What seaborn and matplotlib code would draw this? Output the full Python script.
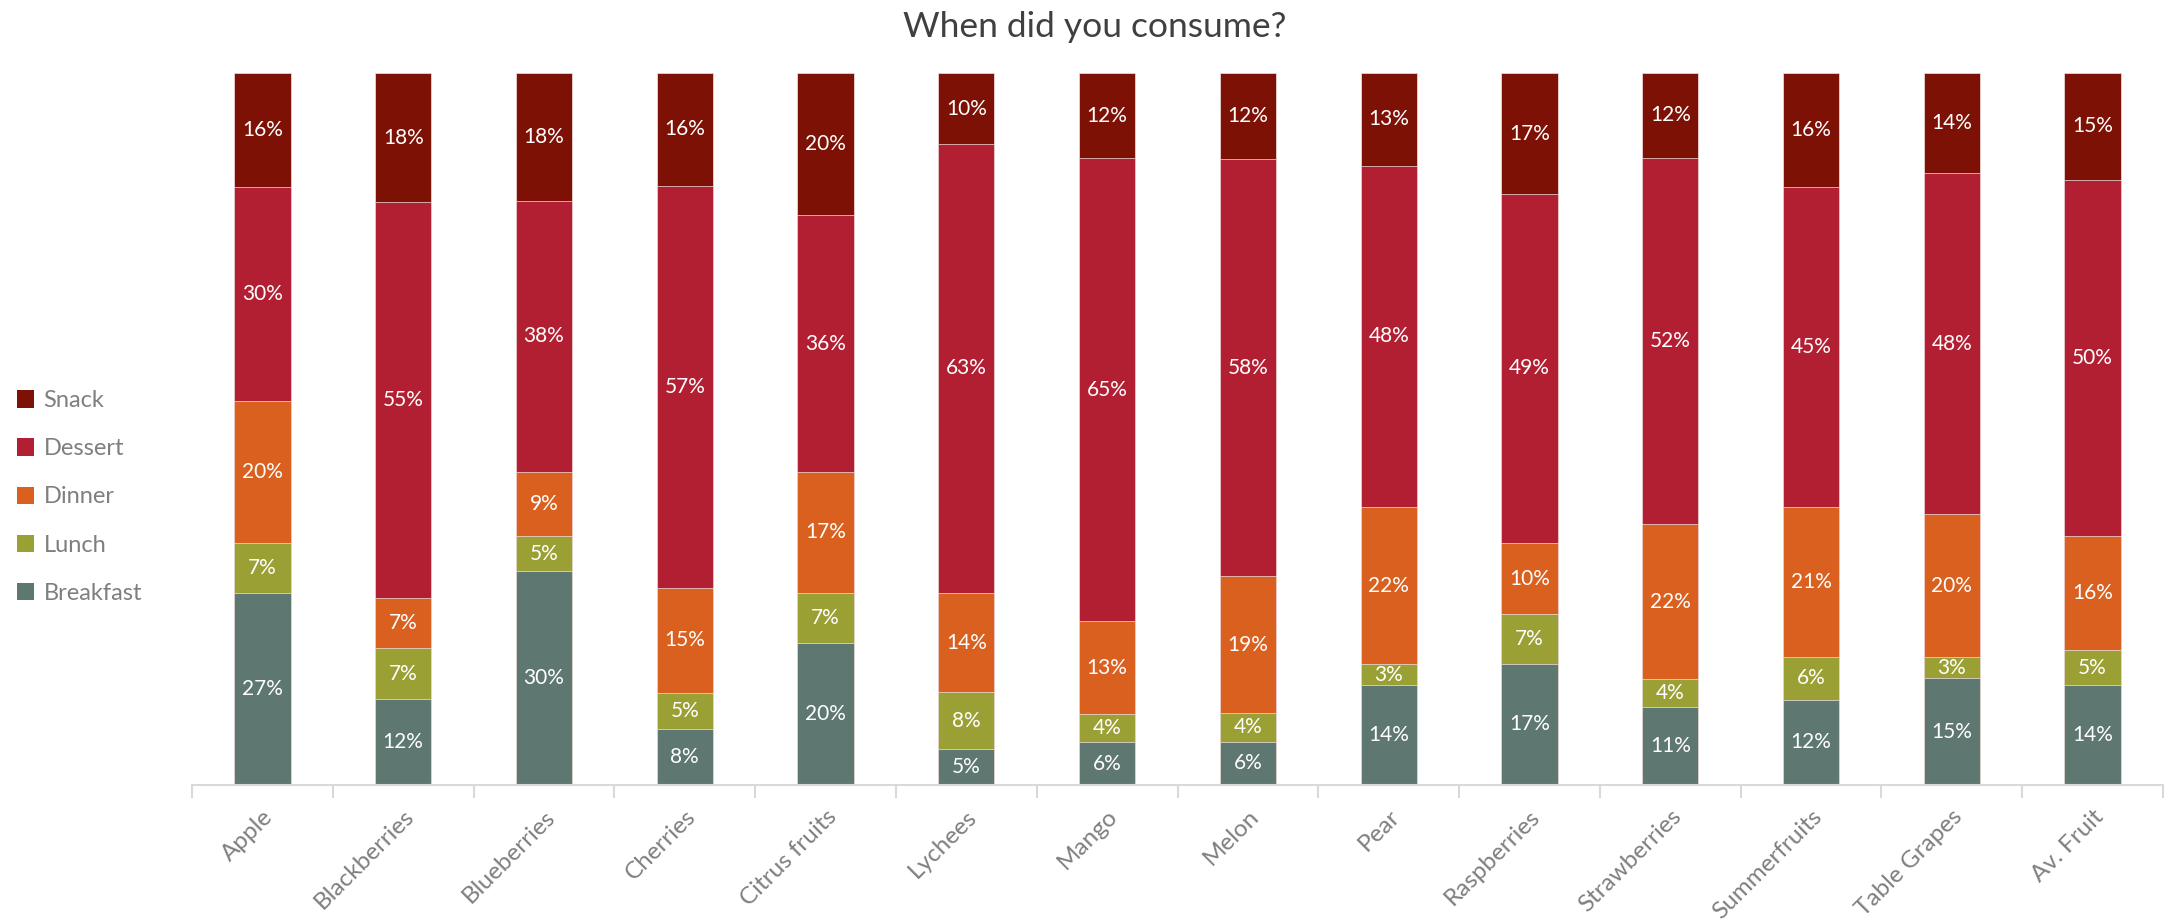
import matplotlib
matplotlib.use("Agg")
import matplotlib.pyplot as plt
from matplotlib.patches import Patch
import numpy as np
import pandas as pd
import seaborn as sns

fruits = ["Apple", "Blackberries", "Blueberries", "Cherries", "Citrus fruits",
          "Lychees", "Mango", "Melon", "Pear", "Raspberries", "Strawberries",
          "Summerfruits", "Table Grapes", "Av. Fruit"]

# share of respondents (%) by meal occasion
breakfast = [27, 12, 30, 8, 20, 5, 6, 6, 14, 17, 11, 12, 15, 14]
lunch     = [7, 7, 5, 5, 7, 8, 4, 4, 3, 7, 4, 6, 3, 5]
dinner    = [20, 7, 9, 15, 17, 14, 13, 19, 22, 10, 22, 21, 20, 16]
dessert   = [30, 55, 38, 57, 36, 63, 65, 58, 48, 49, 52, 45, 48, 50]
snack     = [16, 18, 18, 16, 20, 10, 12, 12, 13, 17, 12, 16, 14, 15]

occasions = ["Breakfast", "Lunch", "Dinner", "Dessert", "Snack"]
colors = {"Breakfast": "#5E7770", "Lunch": "#9AA034", "Dinner": "#D9601F",
          "Dessert": "#B21F33", "Snack": "#7E1105"}

df = pd.DataFrame({"Breakfast": breakfast, "Lunch": lunch, "Dinner": dinner,
                   "Dessert": dessert, "Snack": snack}, index=fruits)
share = df.div(df.sum(axis=1), axis=0)          # 100% stacked
cum = share.cumsum(axis=1)

sns.set_theme(style="white")
plt.rcParams["font.family"] = ["Lato", "DejaVu Sans"]

fig = plt.figure(figsize=(21.68, 9.24), dpi=100)
ax = fig.add_axes([192 / 2168, 1 - 785 / 924, (2163 - 192) / 2168, (785 - 73) / 924])

# draw cumulative totals from the top segment downwards so each layer shows
for occ in reversed(occasions):
    plot_df = pd.DataFrame({"fruit": fruits, "value": cum[occ].values})
    sns.barplot(data=plot_df, x="fruit", y="value", order=fruits,
                color=colors[occ], saturation=1, width=0.4,
                edgecolor="#f0e2e2", linewidth=0.5, ax=ax)

# value labels in the middle of each segment
for i, fruit in enumerate(fruits):
    for occ in occasions:
        top = cum.loc[fruit, occ]
        mid = top - share.loc[fruit, occ] / 2
        ax.text(i, mid, f"{df.loc[fruit, occ]}%", ha="center", va="center",
                color="white", fontsize=15)

ax.set_xlim(-0.5, len(fruits) - 0.5)
ax.set_ylim(0, 1)
ax.set_xlabel("")
ax.set_ylabel("")
ax.set_yticks([])
for s in ["top", "right", "left"]:
    ax.spines[s].set_visible(False)
ax.spines["bottom"].set_color("#D9D9D9")
ax.spines["bottom"].set_linewidth(1.5)

ax.set_xticks(range(len(fruits)))
ax.set_xticklabels(fruits, rotation=45, ha="right", rotation_mode="anchor",
                   color="#7F7F7F", fontsize=17.5)
ax.tick_params(axis="x", which="major", length=0, pad=15)
ax.set_xticks(np.arange(-0.5, len(fruits)), minor=True)
ax.tick_params(axis="x", which="minor", length=9, width=1.5, color="#D9D9D9",
               bottom=True)

fig.text(0.505, 1 - 27 / 924, "When did you consume?", ha="center", va="center",
         fontsize=25.5, color="#404040")

handles = [Patch(facecolor=colors[o], edgecolor="none") for o in reversed(occasions)]
fig.legend(handles, list(reversed(occasions)), loc="center left",
           bbox_to_anchor=(0.0, 1 - 497 / 924), frameon=False,
           fontsize=17, labelcolor="#7F7F7F", handlelength=0.75,
           handleheight=0.75, handletextpad=0.4, labelspacing=1.15,
           borderaxespad=0.3)

fig.savefig("out.png", dpi=100)
